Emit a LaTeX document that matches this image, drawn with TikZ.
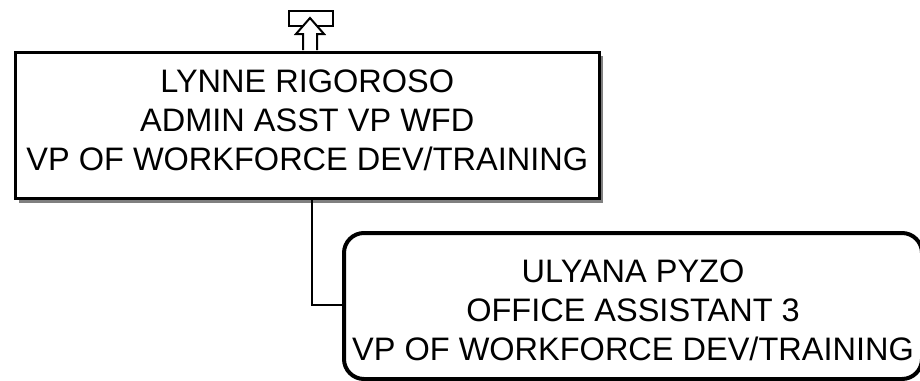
\documentclass[tikz,border=0pt]{standalone}
\usepackage{fontspec}
\setmainfont{Liberation Sans}
\begin{document}
\begin{tikzpicture}[x=1pt,y=-1pt,
  txt/.style={font=\fontsize{32.5}{39}\selectfont, align=center, inner sep=0pt},
  conn/.style={draw=black, line width=1.5pt}]
\useasboundingbox (0,0) rectangle (920,380);
% top box shadow + box
\fill[black!50] (19,56) rectangle (603,203);
\node[draw=black, line width=2.5pt, fill=white, minimum width=584pt, minimum height=146pt, anchor=north west, inner sep=0pt] (top) at (14,51) {};
\node[txt] (toptxt) at ([yshift=5pt]top.center) {LYNNE RIGOROSO\\ADMIN ASST VP WFD\\VP OF WORKFORCE DEV/TRAINING};
% lower box
\node[draw=black, line width=4pt, fill=white, rounded corners=20pt, minimum width=578pt, minimum height=146pt, anchor=north west, inner sep=0pt] (low) at (342,231) {};
\node[txt] (lowtxt) at ([yshift=-4pt]low.center) {ULYANA PYZO\\OFFICE ASSISTANT 3\\VP OF WORKFORCE DEV/TRAINING};
% connector
\coordinate (c1) at (312,197);
\coordinate (c2) at (312,305);
\draw[conn] (c1) -- (c2) -- (low.west |- c2);
% up icon
\node[draw=black, line width=2pt, fill=white, minimum width=44pt, minimum height=15pt, inner sep=0pt, anchor=north west] (icon) at (288,10) {};
\draw[black, line width=2pt, fill=white] (303,50) -- (303,34) -- (296,34) -- (310,18) -- (324,34) -- (317,34) -- (317,50);
\end{tikzpicture}
\end{document}
